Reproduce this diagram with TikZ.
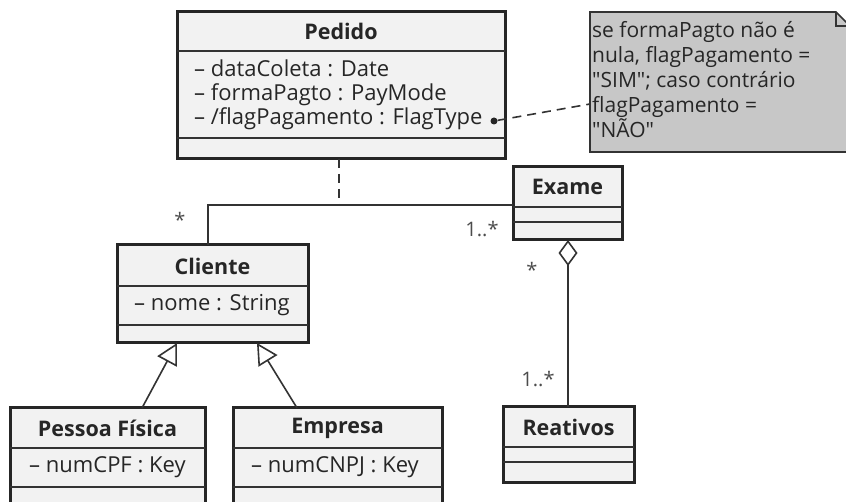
\documentclass[tikz,border=0pt]{standalone}
\usepackage{fontspec}
\setmainfont{Open Sans}
\usetikzlibrary{arrows.meta}
\begin{document}
\begin{tikzpicture}[x=1pt,y=-1pt,
  classbox/.style={draw=black!85,line width=3pt,fill=black!5,inner sep=0pt,outer sep=0pt},
  sep/.style={draw=black!80,line width=1.6pt},
  ttl/.style={font=\fontsize{21.5}{24}\selectfont\bfseries,text=black!85,inner sep=0pt},
  attr/.style={font=\fontsize{22}{24}\selectfont,text=black!85,inner sep=0pt,align=left,anchor=west},
  conn/.style={draw=black!80,line width=1.6pt},
  mult/.style={font=\fontsize{20}{22}\selectfont,text=black!70,inner sep=0pt},
  gen/.style={conn,-{Triangle[open,length=21pt,width=22pt,fill=white,line width=1.6pt]}},
]
\useasboundingbox (0,0) rectangle (846,502);
\fill[white] (0,0) rectangle (846,502);

% Note
\filldraw[fill=black!22,draw=black!80,line width=1.6pt]
  (590,12) -- (836,12) -- (852,28) -- (852,152) -- (590,152) -- cycle;
\draw[black!80,line width=1.2pt] (836,12) -- (836,26) -- (850,26);
\node[attr,anchor=north west,font=\fontsize{21}{25}\selectfont] (note) at (592,21)
  {se formaPagto não é\\nula, flagPagamento =\\\textquotedbl SIM\textquotedbl; caso contrário\\flagPagamento =\\\textquotedbl NÃO\textquotedbl};
\coordinate (noteL) at (590,104);

% Pedido
\path[classbox] (177,12) rectangle (505,159);
\node[inner sep=0pt,minimum width=328pt,minimum height=147pt] (pedido) at (341,85.5) {};
\draw[sep] (177,51) -- (505,51);
\draw[sep] (177,138) -- (505,138);
\node[ttl] (pedidoT) at (341,31) {Pedido};
\node[attr] (pedidoA) at (194,95) {– dataColeta : Date\\– formaPagto : PayMode\\– /flagPagamento : FlagType};
\node[circle,fill=black!85,inner sep=0pt,minimum size=7pt] (dot) at (494,121) {};
\draw[conn,dashed,dash pattern=on 9pt off 6pt] (dot) -- (noteL);

% Exame
\path[classbox] (513,167) rectangle (622,240);
\node[inner sep=0pt,minimum width=109pt,minimum height=73pt] (exame) at (567.5,203.5) {};
\draw[sep] (513,207) -- (622,207);
\draw[sep] (513,222) -- (622,222);
\node[ttl] (exameT) at (567.5,187) {Exame};

% Reativos
\path[classbox] (503,407) rectangle (634,482);
\node[inner sep=0pt,minimum width=131pt,minimum height=75pt] (reativos) at (568.5,444.5) {};
\draw[sep] (503,447) -- (634,447);
\draw[sep] (503,462) -- (634,462);
\node[ttl] (reativosT) at (568.5,427) {Reativos};

% Cliente
\path[classbox] (117,245) rectangle (308,343);
\node[inner sep=0pt,minimum width=191pt,minimum height=98pt] (cliente) at (212.5,294) {};
\draw[sep] (117,286) -- (308,286);
\draw[sep] (117,325) -- (308,325);
\node[ttl] (clienteT) at (212.5,266) {Cliente};
\node[attr] (clienteA) at (134,305) {– nome : String};

% Pessoa Fisica
\path[classbox] (10,408) rectangle (205,515);
\node[inner sep=0pt,minimum width=195pt,minimum height=107pt] (pf) at (107.5,461.5) {};
\draw[sep] (10,448) -- (205,448);
\draw[sep] (10,487) -- (205,487);
\node[ttl] (pfT) at (107.5,428) {Pessoa Física};
\node[attr] (pfA) at (29,467) {– numCPF : Key};

% Empresa
\path[classbox] (233,408) rectangle (442,515);
\node[inner sep=0pt,minimum width=209pt,minimum height=107pt] (emp) at (337.5,461.5) {};
\draw[sep] (233,448) -- (442,448);
\draw[sep] (233,487) -- (442,487);
\node[ttl] (empT) at (337.5,428) {Empresa};
\node[attr] (empA) at (251,467) {– numCNPJ : Key};

% Association Cliente - Exame
\coordinate (cl) at (208,245);
\coordinate (bend) at (208,205);
\coordinate (ex) at (513,205);
\draw[conn] (cl) -- (bend) -- (ex);
\coordinate (ac) at (339,205);
\coordinate (pb) at (339,159);
\draw[conn,dashed,dash pattern=on 9pt off 6pt] (pb) -- (ac);
\node[mult] (m1) at (180,220) {*};
\node[mult] (m2) at (482,229) {1..*};

% Aggregation
\coordinate (exb) at (568,240);
\coordinate (rt) at (568,407);
\draw[conn,{Diamond[open,length=26pt,width=19pt,fill=white,line width=1.6pt]}-] (exb) -- (rt);
\node[mult] (m3) at (532,270) {*};
\node[mult] (m4) at (538,379) {1..*};

% Generalizations
\coordinate (pft) at (142,408);
\coordinate (ctip1) at (177,343);
\coordinate (empt) at (297,408);
\coordinate (ctip2) at (257,343);
\draw[gen] (pft) -- (ctip1);
\draw[gen] (empt) -- (ctip2);
\end{tikzpicture}
\end{document}
